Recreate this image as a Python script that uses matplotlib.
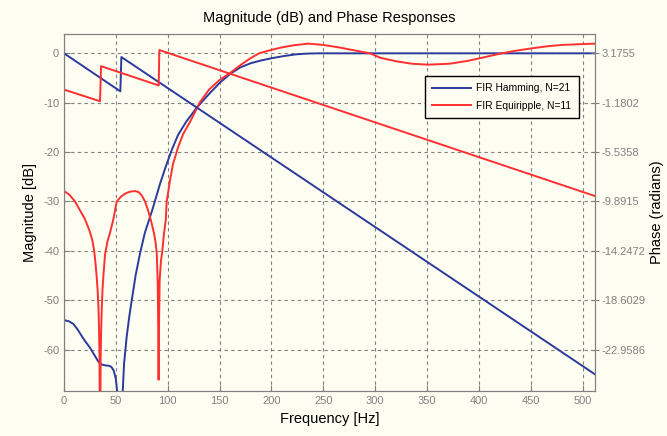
import numpy as np
import matplotlib
matplotlib.use("Agg")
import matplotlib.pyplot as plt

# === Données ===

# Réponse en amplitude (dB), filtre FIR Hamming N=21
freq_ham = [0, 5, 9, 13, 16, 20, 25, 29, 33, 36, 40, 44, 46, 48, 50, 51.5, 53.5,
            56, 56.6, 57.9, 60.4, 63, 65.3, 69, 73.3, 78, 85, 92.6, 98, 104, 110,
            118, 128, 140, 150, 160, 170, 180, 190, 200, 212, 224, 235, 245, 512]
mag_ham = [-54.0, -54.3, -54.8, -55.9, -56.9, -58.2, -59.6, -61.0, -62.4, -63.0,
           -63.2, -63.3, -63.6, -64.3, -66.0, -69.0, -80.0, -72.0, -68.4, -62.8,
           -57.4, -53.2, -50.0, -45.0, -40.5, -36.3, -31.8, -26.4, -23.0, -19.5,
           -16.5, -13.8, -11.0, -8.2, -6.0, -4.2, -2.85, -2.0, -1.45, -1.0, -0.55,
           -0.2, -0.05, 0.0, 0.0]

# Réponse en amplitude (dB), filtre FIR Equiripple N=11
freq_eq = [0, 5, 10.6, 15.4, 20, 24.4, 27, 28, 29.2, 30.3, 31.5, 32.4, 33.2, 33.6,
           34.2, 34.7, 35.3, 35.8, 36.5, 37.2, 38, 39.5, 42, 44.4, 47.6, 50.8, 55,
           60, 64, 68.5, 72, 75, 78.1, 81, 84, 86.8, 88.3, 89.4, 90.3, 90.8, 91.2,
           91.6, 92.2, 93.5, 94.8, 96.4, 98.1, 99, 102, 105, 110, 115, 121.5, 131,
           140, 150, 160, 170, 179, 188, 194, 200, 210, 222, 235.6, 250, 265, 280,
           295, 305, 320, 335, 351, 372, 390, 405, 422, 435, 449, 465, 480, 497.5,
           512]
mag_eq = [-27.9, -28.6, -30.0, -31.8, -33.5, -35.8, -37.6, -38.7, -40.2, -42.4,
          -45.3, -48.0, -51.5, -54.5, -61.0, -90.0, -62.0, -56.0, -51.0, -47.5,
          -45.0, -40.8, -38.0, -36.3, -33.6, -30.0, -29.0, -28.3, -28.0, -27.9,
          -28.1, -28.8, -30.0, -31.8, -34.0, -36.5, -38.3, -40.5, -46.0, -55.0,
          -66.1, -55.0, -46.0, -42.0, -40.0, -36.5, -33.8, -30.0, -26.0, -22.5,
          -19.0, -16.3, -13.9, -9.9, -7.3, -5.4, -4.0, -2.4, -1.1, 0.0, 0.35,
          0.7, 1.2, 1.65, 1.96, 1.7, 1.2, 0.6, 0.0, -0.9, -1.6, -2.1, -2.3, -2.1,
          -1.5, -0.8, 0.0, 0.5, 0.95, 1.4, 1.7, 1.85, 1.96]

# Phase (radians)
freq_ph_ham = [0, 54.3, 55.3, 512]
phase_ham = [3.1755, -0.178, 2.849, -25.137]
freq_ph_eq = [0, 34.7, 35.7, 91.3, 91.9, 512]
phase_eq = [-0.026, -1.050, 2.043, 0.344, 3.467, -9.413]

mag_ticks = [0, -10, -20, -30, -40, -50, -60]
phase_ticks = [3.1755, -1.1802, -5.5358, -9.8915, -14.2472, -18.6029, -22.9586]
freq_ticks = [0, 50, 100, 150, 200, 250, 300, 350, 400, 450, 500]

# === Figure ===

plt.rcParams['font.family'] = ['Liberation Sans', 'DejaVu Sans']
plt.rcParams['axes.unicode_minus'] = False
fond = '#fdfdf1'
bleu = '#2b3a9c'
rouge = '#ff3030'
gris = '#808080'

fig = plt.figure(figsize=(6.67, 4.36), dpi=100, facecolor=fond)
ax = fig.add_axes([0.096, 0.103, 0.796, 0.82])
ax.set_facecolor(fond)
ax2 = ax.twinx()

ax.plot(freq_ham, mag_ham, color=bleu, lw=1.4)
ax.plot(freq_eq, mag_eq, color=rouge, lw=1.4)
l1, = ax2.plot(freq_ph_ham, phase_ham, color=bleu, lw=1.4)
l2, = ax2.plot(freq_ph_eq, phase_eq, color=rouge, lw=1.4)

# axe de phase aligné sur l'axe des dB
ymin, ymax = -68.4, 4.0
pas = (phase_ticks[0] - phase_ticks[1]) / 10.0
ax.set_ylim(ymin, ymax)
ax2.set_ylim(phase_ticks[0] + ymin * pas, phase_ticks[0] + ymax * pas)
ax.set_xlim(0, 512)

ax.set_xticks(freq_ticks)
ax.set_yticks(mag_ticks)
ax2.set_yticks(phase_ticks)
ax2.set_yticklabels(["%.4f" % p for p in phase_ticks])

ax.grid(True, color=gris, linestyle=(0, (3, 3)), linewidth=0.8)
for a in (ax, ax2):
    for s in a.spines.values():
        s.set_color(gris)
    a.tick_params(colors=gris, labelsize=8, direction='in', length=4)
ax2.tick_params(direction='inout', length=6, pad=2)

ax.set_title("Magnitude (dB) and Phase Responses", fontsize=10.5, pad=8)
ax.set_xlabel("Frequency [Hz]", fontsize=10.5, labelpad=4)
ax.set_ylabel("Magnitude [dB]", fontsize=10.5, labelpad=4)
ax2.set_ylabel("Phase (radians)", fontsize=10.5, labelpad=3)

leg = ax2.legend([l1, l2], ["FIR Hamming, N=21", "FIR Equiripple, N=11"],
                 loc='upper left', bbox_to_anchor=(0.68, 0.881), borderaxespad=0,
                 fontsize=7.4, fancybox=False, framealpha=1, facecolor=fond,
                 edgecolor='black', handlelength=3.8, handletextpad=0.5,
                 borderpad=0.7, labelspacing=0.7)
leg.get_frame().set_linewidth(1.0)

fig.savefig("out.png", dpi=100, facecolor=fond)
